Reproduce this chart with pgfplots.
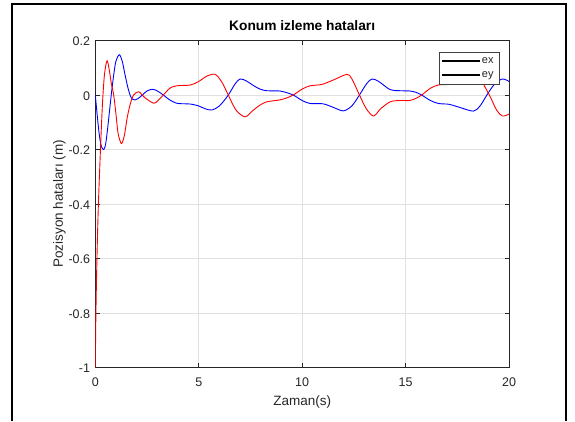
\documentclass[border=0pt]{standalone}
\usepackage{fontspec}
\setmainfont{Liberation Sans}
\usepackage{pgfplots}
\pgfplotsset{compat=1.18}
\definecolor{axgray}{gray}{0.15}
\definecolor{gridgray}{gray}{0.88}
\definecolor{exblue}{RGB}{0,0,255}
\definecolor{eyred}{RGB}{255,0,0}
\begin{document}
\begin{tikzpicture}
\path[use as bounding box] (0pt,0pt) rectangle (575pt,421pt);
\draw[line width=2pt] (11.8pt,0pt) -- (11.8pt,417.2pt) -- (566pt,417.2pt) -- (566pt,0pt);
\coordinate (A) at (95.3pt,53.7pt);
\begin{axis}[
  at={(A)}, anchor=south west,
  width=413.7pt, height=326.7pt, scale only axis,
  xmin=0, xmax=20, ymin=-1, ymax=0.2,
  xtick={0,5,10,15,20},
  ytick={-1,-0.8,-0.6,-0.4,-0.2,0,0.2},
  /pgf/number format/assume math mode=true,
  grid=major,
  major grid style={gridgray, line width=0.5pt},
  axis line style={axgray, line width=0.6pt},
  tick style={axgray, line width=0.6pt},
  tick align=inside,
  major tick length=4.5pt,
  ticklabel style={font=\fontsize{12.5}{14}\selectfont, text=axgray},
  xticklabel style={anchor=base, yshift=-19.4pt},
  yticklabel style={anchor=east, xshift=-1.7pt, yshift=-1pt},
  title={\textbf{Konum izleme hataları}},
  title style={font=\fontsize{13.75}{16}\selectfont, at={(axis description cs:0.5,1.0138)}, anchor=base},
  xlabel={Zaman(s)},
  ylabel={Pozisyon hataları (m)},
  every axis x label/.style={at={(axis description cs:0.5,-0.117)}, anchor=base, font=\fontsize{13.5}{16}\selectfont, text=axgray},
  every axis y label/.style={at={(axis description cs:-0.0781,0.5)}, rotate=90, anchor=base, font=\fontsize{13.5}{16}\selectfont, text=axgray},
  legend style={at={(0.9766,0.9663)}, anchor=north east, draw=black!75, fill=white, line width=0.6pt,
    font=\fontsize{11}{13}\selectfont, inner xsep=3pt, inner ysep=1.5pt, row sep=0pt,
    nodes={text height=8.5pt, text depth=3pt, inner ysep=1.5pt, inner xsep=2.5pt},
    cells={anchor=west}},
  legend image code/.code={\fill[#1] (0pt,-0.5pt) rectangle (37pt,0.5pt);},
]
\addplot[draw=exblue, line width=0.9pt, smooth, forget plot] coordinates {
(0,0) (0.1,-0.08) (0.2,-0.15) (0.3,-0.19) (0.41,-0.2) (0.5,-0.18) (0.6,-0.12) (0.77,0)
(0.9,0.08) (1.0,0.125) (1.16,0.148) (1.3,0.125) (1.45,0.07) (1.6,0.02) (1.74,-0.01)
(1.93,-0.018) (2.2,-0.005) (2.5,0.015) (2.77,0.021) (3.0,0.015) (3.29,0) (3.6,-0.018)
(3.93,-0.03) (4.25,-0.032) (4.6,-0.033) (5.0,-0.04) (5.3,-0.05) (5.63,-0.055) (6.0,-0.04)
(6.43,0) (6.75,0.04) (7.0,0.059) (7.3,0.052) (7.6,0.037) (7.96,0.022) (8.29,0.016)
(8.9,0.015) (9.2,0.01) (9.57,0) (10.0,-0.02) (10.38,-0.031) (11.0,-0.032) (11.5,-0.045)
(11.99,-0.058) (12.4,-0.04) (12.77,0) (13.1,0.04) (13.37,0.059) (13.7,0.05) (14.25,0.02)
(14.7,0.016) (15.2,0.015) (15.5,0.01) (15.78,0) (16.2,-0.02) (16.59,-0.031) (17.1,-0.034)
(17.6,-0.045) (18.28,-0.059) (18.6,-0.04) (18.93,0) (19.3,0.04) (19.68,0.059) (20,0.05)
};
\addplot[draw=eyred, line width=0.9pt, smooth, forget plot] coordinates {
(0,-1) (0.03,-0.8) (0.08,-0.6) (0.15,-0.4) (0.25,-0.2) (0.31,-0.09) (0.37,0) (0.45,0.08)
(0.57,0.126) (0.68,0.09) (0.78,0.04) (0.89,0) (1.0,-0.07) (1.1,-0.14) (1.26,-0.178)
(1.4,-0.15) (1.55,-0.08) (1.7,-0.03) (1.85,0) (2.1,0.012) (2.4,-0.01) (2.82,-0.03)
(3.0,-0.022) (3.29,0) (3.6,0.025) (3.93,0.034) (4.6,0.037) (5.0,0.05) (5.4,0.07)
(5.79,0.076) (6.1,0.05) (6.43,0) (6.8,-0.055) (7.24,-0.08) (7.6,-0.058) (7.96,-0.037)
(8.29,-0.025) (8.9,-0.018) (9.2,-0.012) (9.57,0) (10.0,0.022) (10.38,0.034) (10.95,0.039)
(11.5,0.055) (12.16,0.076) (12.4,0.06) (12.77,0) (13.1,-0.05) (13.45,-0.077) (13.8,-0.05)
(14.25,-0.025) (14.7,-0.02) (15.2,-0.02) (15.5,-0.012) (15.78,0) (16.2,0.025) (16.59,0.037)
(17.1,0.04) (17.7,0.058) (18.3,0.076) (18.6,0.06) (19.05,0) (19.4,-0.055) (19.68,-0.077) (20,-0.07)
};
\addlegendimage{fill=exblue}
\addlegendentry{\textcolor{axgray}{ex}}
\addlegendimage{fill=eyred}
\addlegendentry{\textcolor{axgray}{ey}}
\end{axis}
\end{tikzpicture}
\end{document}
